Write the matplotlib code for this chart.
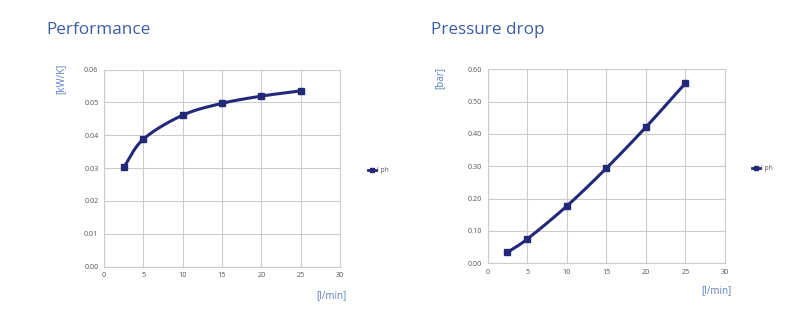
import numpy as np
import matplotlib
matplotlib.use("Agg")
import matplotlib.pyplot as plt
from matplotlib.lines import Line2D

flow = [2.5, 5, 10, 15, 20, 25]
performance = [0.0302, 0.0388, 0.0461, 0.0497, 0.0519, 0.0535]
pressure = [0.034, 0.075, 0.177, 0.294, 0.421, 0.557]
series_name = "l ph"
x_ticks = [0, 5, 10, 15, 20, 25, 30]
perf_ticks = [0.00, 0.01, 0.02, 0.03, 0.04, 0.05, 0.06]
pres_ticks = [0.0, 0.1, 0.2, 0.3, 0.4, 0.5, 0.6]

NAVY = "#232878"
TITLE = "#3b5ca6"
LABEL = "#5b7fc0"
GRID = "#cccccc"
TICK = "#555555"
FONT = "Open Sans"


def smooth(x, y, n=30):
    x = np.asarray(x, float)
    y = np.asarray(y, float)
    px = np.concatenate([[2 * x[0] - x[1]], x, [2 * x[-1] - x[-2]]])
    py = np.concatenate([[2 * y[0] - y[1]], y, [2 * y[-1] - y[-2]]])
    xs, ys = [], []
    for i in range(1, len(px) - 2):
        t = np.linspace(0, 1, n)
        for arr, out in ((px, xs), (py, ys)):
            p0, p1, p2, p3 = arr[i - 1], arr[i], arr[i + 1], arr[i + 2]
            out.append(0.5 * ((2 * p1) + (-p0 + p2) * t
                              + (2 * p0 - 5 * p1 + 4 * p2 - p3) * t ** 2
                              + (-p0 + 3 * p1 - 3 * p2 + p3) * t ** 3))
    return np.concatenate(xs), np.concatenate(ys)


fig = plt.figure(figsize=(8, 3.24), dpi=100)


def panel(rect, title, title_xy, ylabel, ylabel_xy, xlabel_xy, y, yticks, fmt, legend_xy):
    ax = fig.add_axes(rect)
    sx, sy = smooth(flow, y)
    ax.plot(sx, sy, color=NAVY, lw=2.2, solid_capstyle="round", zorder=3)
    ax.plot(flow, y, ls="none", marker="s", ms=5, color=NAVY, zorder=4)
    ax.set_xlim(x_ticks[0], x_ticks[-1])
    ax.set_ylim(yticks[0], yticks[-1])
    ax.set_xticks(x_ticks)
    ax.set_yticks(yticks)
    ax.set_xticklabels([str(v) for v in x_ticks])
    ax.set_yticklabels([fmt.format(v) for v in yticks])
    ax.grid(True, color=GRID, lw=0.8)
    ax.set_axisbelow(True)
    for s in ax.spines.values():
        s.set_color(GRID)
        s.set_linewidth(0.8)
    ax.tick_params(length=0, pad=4, labelsize=5.2, labelcolor=TICK)
    for lab in ax.get_xticklabels() + ax.get_yticklabels():
        lab.set_fontfamily(FONT)
    fig.text(title_xy[0], title_xy[1], title, color=TITLE, fontsize=12.3,
             family=FONT, ha="left", va="center")
    fig.text(ylabel_xy[0], ylabel_xy[1], ylabel, color=LABEL, fontsize=7,
             family=FONT, rotation=90, ha="center", va="center")
    fig.text(xlabel_xy[0], xlabel_xy[1], "[l/min]", color=LABEL, fontsize=7,
             family=FONT, ha="center", va="center")
    h = Line2D([], [], color=NAVY, lw=2, marker="s", ms=3)
    fig.legend([h], [series_name], loc="center left",
               bbox_to_anchor=legend_xy, frameon=False,
               prop={"family": FONT, "size": 4.8}, handlelength=1.2,
               handletextpad=0.1, labelcolor=TICK)
    return ax


panel([104 / 800, 1 - 266.7 / 324, 236 / 800, 197.2 / 324], "Performance",
      (46 / 800, 1 - 30 / 324), "[kW/K]", (61 / 800, 1 - 79 / 324),
      (331 / 800, 1 - 296 / 324), performance, perf_ticks, "{:.2f}",
      (362 / 800, 1 - 171 / 324))
panel([487.7 / 800, 1 - 263.3 / 324, 237.3 / 800, 194 / 324], "Pressure drop",
      (431 / 800, 1 - 30 / 324), "[bar]", (440 / 800, 1 - 78 / 324),
      (716 / 800, 1 - 291 / 324), pressure, pres_ticks, "{:.2f}",
      (746 / 800, 1 - 169 / 324))

fig.savefig("out.png", dpi=100, facecolor="white")
